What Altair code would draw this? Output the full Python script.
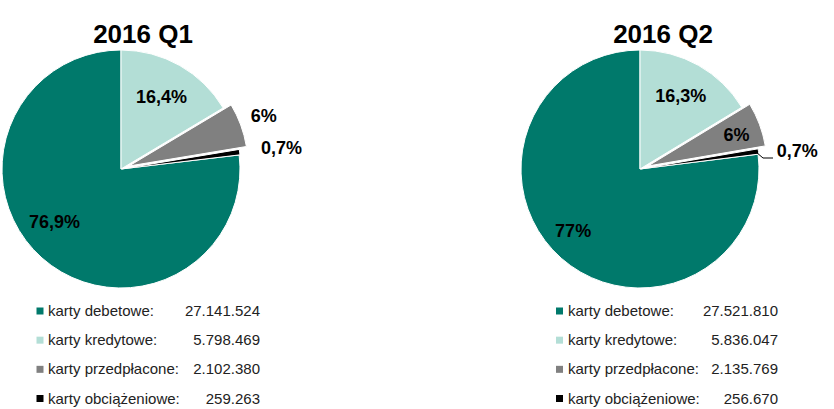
import math
import altair as alt
import pandas as pd

# ---------------- data ----------------
quarters = ["2016 Q1", "2016 Q2"]
categories = ["karty debetowe", "karty kredytowe", "karty przedpłacone", "karty obciążeniowe"]
q1_values = [27141524, 5798469, 2102380, 259263]
q2_values = [27521810, 5836047, 2135769, 256670]
# order of slices clockwise from 12 o'clock
pie_order = ["karty kredytowe", "karty przedpłacone", "karty obciążeniowe", "karty debetowe"]
colors = ["#00796B", "#B3DED6", "#808080", "#000000"]


def pct_label(v, tot):
    p = round(v / tot * 100, 1)
    s = f"{p:.1f}".replace(".", ",")
    if s.endswith(",0"):
        s = s[:-2]
    return s + "%"


def num_label(v):
    return f"{v:,}".replace(",", ".")


rows = []
for q, vals in zip(quarters, [q1_values, q2_values]):
    tot = sum(vals)
    for c, v in zip(categories, vals):
        rows.append(dict(quarter=q, category=c, value=v,
                         pie_rank=pie_order.index(c),
                         pct_label=pct_label(v, tot),
                         legend_label=c + ":",
                         value_label=num_label(v)))
df = pd.DataFrame(rows)

# ---------------- layout / style ----------------
FONT = "Liberation Sans"
R = 119
panels = {
    "2016 Q1": dict(cx=121, cy=169, title_x=143, sq_x=40, text_x=48, num_x=260),
    "2016 Q2": dict(cx=640, cy=169, title_x=663, sq_x=559.5, text_x=568, num_x=778),
}
explode = {"karty przedpłacone": (8.0, -3.0), "karty obciążeniowe": (0.8, -0.1)}
label_style = {
    ("2016 Q1", "karty kredytowe"): dict(r=82, dx=0, dy=0),
    ("2016 Q1", "karty przedpłacone"): dict(r=152, dx=0, dy=0),
    ("2016 Q1", "karty obciążeniowe"): dict(r=161, dx=1, dy=3),
    ("2016 Q1", "karty debetowe"): dict(r=85, dx=-10, dy=-10),
    ("2016 Q2", "karty kredytowe"): dict(r=83, dx=0, dy=0),
    ("2016 Q2", "karty przedpłacone"): dict(r=102, dx=1, dy=3),
    ("2016 Q2", "karty obciążeniowe"): dict(r=158, dx=1, dy=6),
    ("2016 Q2", "karty debetowe"): dict(r=92, dx=-6, dy=-6),
}

theta_scale = alt.Scale(domain=[0, 1], range=[0, 2 * math.pi])
color_scale = alt.Scale(domain=categories, range=colors)
legend_scale = alt.Scale(type="point", domain=categories, range=[311, 398.5], padding=0)

base = (
    alt.Chart(df)
    .transform_joinaggregate(total="sum(value)", groupby=["quarter"])
    .transform_window(cum="sum(value)", sort=[alt.SortField("pie_rank")],
                      groupby=["quarter"], frame=[None, 0])
    .transform_calculate(
        start="(datum.cum - datum.value) / datum.total",
        end="datum.cum / datum.total",
        mid="(datum.cum - datum.value / 2) / datum.total",
    )
)

layers = []
for q in quarters:
    P = panels[q]
    qbase = base.transform_filter(alt.datum.quarter == q)
    for c in categories:
        ox, oy = explode.get(c, (0, 0))
        layers.append(
            qbase.transform_filter(alt.datum.category == c)
            .mark_arc(stroke="white", strokeWidth=1)
            .encode(
                theta=alt.Theta("start:Q", scale=theta_scale),
                theta2="end:Q",
                radius=alt.value(R),
                color=alt.Color("category:N", scale=color_scale, legend=None),
                x=alt.value(P["cx"] + ox),
                y=alt.value(P["cy"] + oy),
            )
        )
    for c in categories:
        st = label_style[(q, c)]
        layers.append(
            qbase.transform_filter(alt.datum.category == c)
            .mark_text(font=FONT, fontSize=18, fontWeight="bold", color="black",
                       align="center", baseline="middle", dx=st["dx"], dy=st["dy"])
            .encode(
                theta=alt.Theta("mid:Q", scale=theta_scale),
                radius=alt.value(st["r"]),
                text="pct_label:N",
                x=alt.value(P["cx"]),
                y=alt.value(P["cy"]),
            )
        )
    # title
    layers.append(
        alt.Chart(pd.DataFrame({"quarter": [q]}))
        .mark_text(font=FONT, fontSize=26, fontWeight="bold", color="black",
                   align="center", baseline="alphabetic")
        .encode(text="quarter:N", x=alt.value(P["title_x"]), y=alt.value(43))
    )
    # legend
    layers.append(
        qbase.mark_square(size=49, opacity=1)
        .encode(y=alt.Y("category:N", scale=legend_scale, axis=None),
                x=alt.value(P["sq_x"]),
                color=alt.Color("category:N", scale=color_scale, legend=None))
    )
    layers.append(
        qbase.mark_text(font=FONT, fontSize=15, color="#222222", align="left", baseline="middle")
        .encode(y=alt.Y("category:N", scale=legend_scale, axis=None),
                x=alt.value(P["text_x"]), text="legend_label:N")
    )
    layers.append(
        qbase.mark_text(font=FONT, fontSize=15, color="#222222", align="right", baseline="middle")
        .encode(y=alt.Y("category:N", scale=legend_scale, axis=None),
                x=alt.value(P["num_x"]), text="value_label:N")
    )

# leader line for the small Q2 slice label (two segments)
layers.append(
    alt.Chart(pd.DataFrame({"a": [0]}))
    .mark_rule(color="black", strokeWidth=1)
    .encode(x=alt.value(756), x2=alt.value(763), y=alt.value(152), y2=alt.value(158))
)
layers.append(
    alt.Chart(pd.DataFrame({"a": [0]}))
    .mark_rule(color="black", strokeWidth=1)
    .encode(x=alt.value(763), x2=alt.value(773), y=alt.value(158), y2=alt.value(158))
)

chart = (
    alt.layer(*layers)
    .properties(width=834, height=409, padding=0,
                autosize=alt.AutoSizeParams(type="none"))
    .configure_view(stroke=None)
)

chart.save("out.html", embed_options={"renderer": "svg", "actions": False})
